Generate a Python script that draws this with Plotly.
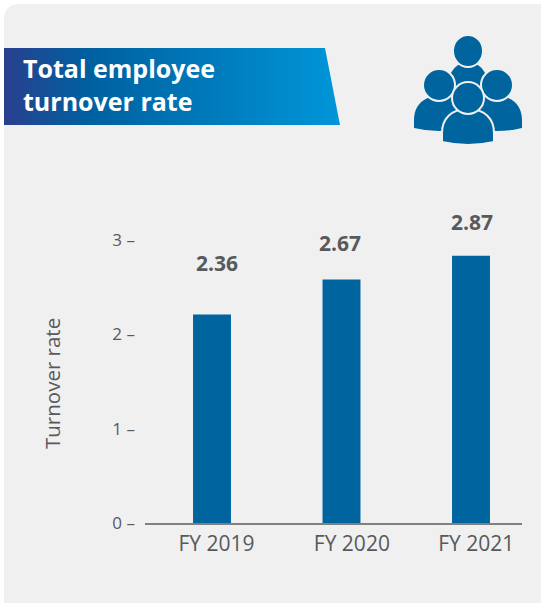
import plotly.graph_objects as go

categories = ["FY 2019", "FY 2020", "FY 2021"]
bar_heights = [2.21, 2.58, 2.83]
value_labels = ["2.36", "2.67", "2.87"]
y_ticks = [0, 1, 2, 3]
y_tick_labels = ["0 –", "1 –", "2 –", "3 –"]
y_title = "Turnover rate"

W, H = 541, 603
BLUE = "#00659f"
GREY = "#58595b"
CARD = "#f0f0f0"
FONT = "Open Sans"

fig = go.Figure()

fig.add_trace(go.Bar(
    x=[0, 1, 2], y=bar_heights, marker=dict(color=BLUE, line=dict(width=0)),
    width=0.293, showlegend=False, hoverinfo="skip",
))

# decoration on a full-page pixel axis pair
fig.add_trace(go.Scatter(
    x=[4, 325, 340, 4, 4], y=[48, 48, 125, 125, 48], xaxis="x2", yaxis="y2",
    mode="lines", line=dict(width=0), fill="toself", hoverinfo="skip", showlegend=False,
    fillgradient=dict(type="horizontal", colorscale=[[0, "#2a3f8f"], [0.25, "#00609f"], [1, "#0096d9"]]),
))

def ell(cx, cy, rx, ry, lw=0):
    return dict(type="circle", xref="x2", yref="y2", x0=cx - rx, x1=cx + rx, y0=cy - ry, y1=cy + ry,
                fillcolor=BLUE, line=dict(color=CARD, width=lw), layer="above")

def body(cx, top, half, bottom, lw=2):
    p = (f"M {cx-half} {bottom} L {cx-half} {top+24} C {cx-half} {top+10} {cx-half+9} {top} {cx} {top} "
         f"C {cx+half-9} {top} {cx+half} {top+10} {cx+half} {top+24} L {cx+half} {bottom} "
         f"Q {cx} {bottom+6} {cx-half} {bottom} Z")
    return dict(type="path", xref="x2", yref="y2", path=p, fillcolor=BLUE,
                line=dict(color=CARD, width=lw), layer="above")

def pxp(x, y):
    return f"{x / W:.5f} {1 - y / H:.5f}"

card_path = (f"M {pxp(4, 620)} L {pxp(4, 20)} Q {pxp(4, 4)} {pxp(20, 4)} "
             f"L {pxp(541, 4)} L {pxp(541, 620)} Z")
shapes = [dict(type="path", xref="paper", yref="paper", path=card_path, fillcolor=CARD,
               line=dict(width=0), layer="below")]
shapes += [
    body(468, 62, 20, 100, 0),
    ell(468, 51, 15, 16, 2),
    body(439, 96, 25, 128, 0),
    body(497, 96, 25, 128, 0),
    ell(439, 85, 16, 16, 2),
    ell(497, 85, 16, 16, 2),
    body(468, 109, 26, 142, 2),
    ell(468, 98, 16, 16, 2),
]

annotations = [
    dict(x=21, y=68, xref="x2", yref="y2", text="<b>Total employee</b>", showarrow=False, xanchor="left",
         font=dict(family=FONT, size=25, color="white")),
    dict(x=21, y=101, xref="x2", yref="y2", text="<b>turnover rate</b>", showarrow=False, xanchor="left",
         font=dict(family=FONT, size=25, color="white")),
    dict(x=52, y=384, xref="x2", yref="y2", text=y_title, showarrow=False, textangle=-90,
         font=dict(family=FONT, size=20.5, color=GREY)),
]
label_offsets = [0.04, -0.01, 0.005]
label_levels = [2.75, 2.97, 3.19]
for i, v in enumerate(value_labels):
    annotations.append(dict(
        x=i + label_offsets[i], y=label_levels[i], xref="x", yref="y", text=f"<b>{v}</b>",
        showarrow=False, font=dict(family=FONT, size=21, color=GREY)))

px_l, px_r = 145, 522
unit = 129.5
fig.update_layout(
    width=W, height=H, margin=dict(l=0, r=0, t=0, b=0),
    paper_bgcolor="white", plot_bgcolor="rgba(0,0,0,0)",
    showlegend=False, shapes=shapes, annotations=annotations,
    xaxis=dict(
        domain=[px_l / W, px_r / W], range=[(px_l - 212) / unit, (px_r - 212) / unit],
        tickmode="array", tickvals=[0.035, 1.08, 2.04], ticktext=categories, automargin=False,
        ticks="", showgrid=False, zeroline=False, showline=True, linecolor="#808080", linewidth=2,
        tickfont=dict(family=FONT, size=21, color=GREY), ticklabelstandoff=1,
    ),
    yaxis=dict(
        domain=[(H - 523) / H, (H - 221) / H], range=[0, 302 / 94.4], automargin=False,
        tickmode="array", tickvals=y_ticks, ticktext=y_tick_labels,
        ticks="", showgrid=False, zeroline=False, showline=False,
        tickfont=dict(family=FONT, size=17, color=GREY), ticklabelstandoff=9,
    ),
    xaxis2=dict(domain=[0, 1], range=[0, W], visible=False, fixedrange=True, anchor="y2", automargin=False),
    yaxis2=dict(domain=[0, 1], range=[H, 0], visible=False, fixedrange=True, anchor="x2", automargin=False),
)

fig.write_html("out.html", config=dict(displayModeBar=False), post_script="document.body.style.margin='0';")
